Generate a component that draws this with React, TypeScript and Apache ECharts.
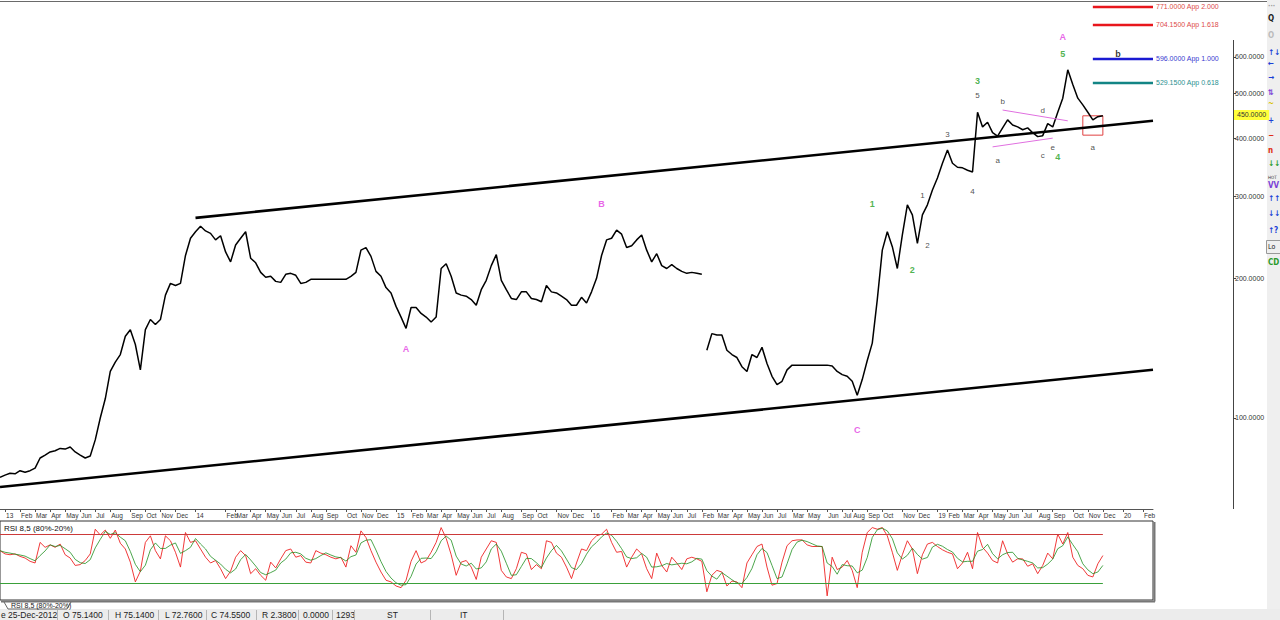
import React, { useEffect, useRef } from 'react';
import * as echarts from 'echarts';

// weekly-ish closes, one per category slot
const PRICE = [
  74.5, 75.3, 76, 75.8, 77, 76.4, 77, 78, 82, 83.2,
  84.5, 85, 86, 85.7, 86.6, 84.5, 83.2, 82, 82.8, 89.7,
  100, 110, 126, 132, 137, 150, 155, 144, 127, 155,
  163, 159, 163, 184, 195, 193, 195, 224, 244, 252,
  259, 253, 250, 242, 247, 228, 217, 236, 244, 252,
  221, 216, 206, 201, 202, 197, 196, 204, 205, 203,
  195, 196, 199, 199, 199, 199, 199, 199, 199, 199,
  202, 206, 230, 233, 223, 207, 202, 191, 186, 174,
  165, 156, 173, 173, 168, 165, 161, 165, 210, 215,
  202, 186, 184, 183, 180, 175, 189, 198, 213, 225,
  198, 189, 181, 180, 187, 187, 181, 180, 178, 193,
  187, 186, 183, 180, 175, 175, 182, 177, 187, 200,
  224, 242, 244, 254, 249, 233, 235, 242, 248, 230,
  217, 226, 213, 210, 214, 210, 207, 205, 206, 205,
  204, 140, 152, 151, 151, 140, 137, 135, 129, 126,
  137, 135, 142, 131, 123, 118, 120, 127, 130, 130,
  130, 130, 130, 130, 130, 130, 129.5, 126, 124, 123,
  120, 112, 121, 133, 145, 180, 230, 252, 234, 210,
  248, 288, 274, 238, 274, 288, 310, 329, 354, 378,
  354, 347, 346, 342, 339, 456, 424, 434, 412, 405,
  422, 439, 428, 424, 418, 422, 412, 404, 406, 431,
  424, 456, 489, 563, 523, 489, 473, 456, 439, 446, 448,
];
const GAP_INDEX = 141; // price jumps here, the two runs are not joined

const RSI = [
  60, 56, 55, 56, 53, 51, 47, 45, 70, 64,
  67, 64, 68, 55, 51, 42, 43, 48, 56, 86,
  79, 85, 75, 85, 69, 62, 46, 22, 35, 70,
  78, 60, 50, 78, 72, 58, 40, 82, 70, 72,
  62, 52, 45, 48, 38, 26, 35, 52, 60, 54,
  32, 38, 30, 24, 46, 39, 50, 60, 62, 52,
  54, 46, 45, 60, 57, 55, 52, 50, 52, 40,
  66, 58, 84, 76, 60, 46, 34, 24, 22, 17,
  15, 24, 47, 60, 45, 48, 58, 70, 88, 75,
  55, 30, 46, 48, 40, 25, 52, 62, 72, 70,
  36, 28, 26, 38, 58, 56, 37, 43, 38, 72,
  70, 57, 52, 40, 26, 45, 62, 60, 72, 78,
  80, 86, 70, 58, 59, 40, 52, 62, 56, 38,
  26, 57, 42, 34, 52, 45, 37, 50, 52, 50,
  47, 10, 30, 36, 34, 17, 23, 22, 15, 45,
  55, 65, 68, 40, 18, 20, 46, 66, 72, 73,
  73, 67, 65, 65, 65, 5, 52, 37, 40, 48,
  36, 15, 58, 82, 88, 86, 88, 78, 58, 36,
  55, 72, 62, 32, 55, 68, 70, 65, 61, 58,
  56, 38, 45, 58, 38, 82, 64, 57, 48, 45,
  72, 56, 46, 50, 50, 41, 44, 32, 42, 57,
  50, 80, 68, 82, 52, 42, 38, 30, 28, 44, 54,
];
const RSI_HIGH = 80;
const RSI_LOW = 20;

const CATEGORY_COUNT = 231;

const MONTH_TICKS: [number, string][] = [
  [1, '13'], [4, 'Feb'], [7, 'Mar'], [10, 'Apr'], [13, 'May'], [16, 'Jun'], [19, 'Jul'], [22, 'Aug'],
  [26, 'Sep'], [29, 'Oct'], [32, 'Nov'], [35, 'Dec'], [39, '14'], [45, 'Feb'], [47, 'Mar'], [50, 'Apr'],
  [53, 'May'], [56, 'Jun'], [59, 'Jul'], [62, 'Aug'], [65, 'Sep'], [69, 'Oct'], [72, 'Nov'], [75, 'Dec'],
  [79, '15'], [82, 'Feb'], [85, 'Mar'], [88, 'Apr'], [91, 'May'], [94, 'Jun'], [97, 'Jul'], [100, 'Aug'],
  [104, 'Sep'], [107, 'Oct'], [111, 'Nov'], [114, 'Dec'], [118, '16'], [122, 'Feb'], [125, 'Mar'],
  [128, 'Apr'], [131, 'May'], [134, 'Jun'], [137, 'Jul'], [140, 'Feb'], [143, 'Mar'], [146, 'Apr'],
  [149, 'May'], [152, 'Jun'], [155, 'Jul'], [158, 'Mar'], [161, 'May'], [165, 'Jun'], [168, 'Jul'],
  [170, 'Aug'], [173, 'Sep'], [176, 'Oct'], [180, 'Nov'], [183, 'Dec'], [187, '19'], [189, 'Feb'],
  [192, 'Mar'], [195, 'Apr'], [198, 'May'], [201, 'Jun'], [204, 'Jul'], [207, 'Aug'], [210, 'Sep'],
  [214, 'Oct'], [217, 'Nov'], [220, 'Dec'], [224, '20'], [228, 'Feb'],
];

const PRICE_TICKS = [100, 200, 300, 400, 500, 600];
const PRICE_MIN = 63.66;
const PRICE_MAX = 795.9;
const LAST_PRICE = 450;

const TARGETS = [
  { value: 771, ratio: '2.000', kind: 'red' },
  { value: 704.15, ratio: '1.618', kind: 'red' },
  { value: 596, ratio: '1.000', kind: 'blue' },
  { value: 529.15, ratio: '0.618', kind: 'teal' },
];
const TARGET_FROM = 218;
const TARGET_TO = 230;

const CHANNEL_LINES = [
  [[39, 270], [230, 437]],
  [[0, 71], [230, 127]],
];
const TRIANGLE_LINES = [
  [[200.3, 461], [213.4, 437]],
  [[197.8, 384], [210.1, 401]],
];
const BOX = [[216.1, 448], [220.3, 407]];

const WAVE_LABELS = [
  { text: 'A', idx: 81.2, value: 141, kind: 'major' },
  { text: 'B', idx: 119.9, value: 289, kind: 'major' },
  { text: 'C', idx: 171.2, value: 94.2, kind: 'major' },
  { text: 'A', idx: 212.1, value: 661, kind: 'major' },
  { text: '1', idx: 174.4, value: 289, kind: 'wave' },
  { text: '2', idx: 182.1, value: 208, kind: 'wave' },
  { text: '3', idx: 194.5, value: 533, kind: 'wave' },
  { text: '4', idx: 210.7, value: 366, kind: 'wave' },
  { text: '5', idx: 212.3, value: 608, kind: 'wave' },
  { text: '1', idx: 183.5, value: 302, kind: 'minor' },
  { text: '2', idx: 185.3, value: 235, kind: 'minor' },
  { text: '3', idx: 189, value: 409, kind: 'minor' },
  { text: '4', idx: 193.7, value: 307, kind: 'minor' },
  { text: '5', idx: 195.1, value: 495, kind: 'minor' },
  { text: 'a', idx: 199.4, value: 359, kind: 'minor' },
  { text: 'b', idx: 199.8, value: 482, kind: 'minor' },
  { text: 'c', idx: 207.5, value: 367, kind: 'minor' },
  { text: 'd', idx: 207.8, value: 461, kind: 'minor' },
  { text: 'e', idx: 210.3, value: 383, kind: 'minor' },
  { text: 'a', idx: 217.9, value: 382, kind: 'minor' },
  { text: 'b', idx: 222.8, value: 609, kind: 'bold' },
];

const STATUS_FIELDS = ['e 25-Dec-2012', 'O 75.1400', 'H 75.1400', 'L 72.7600', 'C 74.5500', 'R 2.3800', '0.0000', '1293', 'ST', 'IT'];

const TOOLBAR = [
  { t: '···', kind: 'gray' }, { t: 'Q', kind: 'dark' }, { t: 'O', kind: 'light' }, { t: '↑↓', kind: 'blue' },
  { t: '←', kind: 'blue' }, { t: '→', kind: 'blue' }, { t: '⇅', kind: 'purple' }, { t: '~', kind: 'yellow' },
  { t: '+', kind: 'blue' }, { t: '−', kind: 'red' }, { t: 'n', kind: 'red' }, { t: '↓↓', kind: 'green' },
  { t: 'HOT', kind: 'tiny' }, { t: 'VV', kind: 'purple' }, { t: '↑↑', kind: 'blue' }, { t: '↓↓', kind: 'blue' },
  { t: '↑?', kind: 'blue' }, { t: 'Lo', kind: 'small' }, { t: 'CD', kind: 'green' },
];

const FONT = "'Liberation Sans', Arial, sans-serif";
const NARROW = "'Liberation Sans Narrow', 'DejaVu Sans Condensed', 'Liberation Sans', sans-serif";

const TARGET_COLORS: Record<string, { line: string; text: string }> = {
  red: { line: '#e8161c', text: '#dd4a4a' },
  blue: { line: '#1a1ad2', text: '#3a3ad0' },
  teal: { line: '#138585', text: '#2a9090' },
};

const WAVE_STYLES: Record<string, any> = {
  major: { color: '#e23de2', fontSize: 9, fontWeight: 'bold' },
  wave: { color: '#24a024', fontSize: 9, fontWeight: 'bold' },
  minor: { color: '#222', fontSize: 8, fontWeight: 'normal' },
  bold: { color: '#000', fontSize: 9, fontWeight: 'bold' },
};

const TOOL_COLORS: Record<string, string> = {
  gray: '#999', dark: '#222', light: '#bbb', blue: '#1b3fd6', purple: '#7a3fd6',
  yellow: '#d8c000', red: '#e02a10', green: '#2a9a2a', tiny: '#333', small: '#222',
};
const TOOL_Y = [6, 18, 35, 52, 63, 77, 92, 103, 120, 135, 150, 163, 177, 185, 198, 213, 230, 247, 262];

const STATUS_X = [1, 63, 115, 165, 211, 262, 303, 336, 387, 460];
const STATUS_SEPS = [57, 108, 158, 206, 256, 298, 332, 354, 430, 503];

const buildOption = () => {
  const categories: string[] = new Array(CATEGORY_COUNT).fill('');
  MONTH_TICKS.forEach(([i, label]) => {
    categories[i] = label;
  });

  const pad = (arr: (number | null)[]) => {
    const out = arr.slice();
    while (out.length < CATEGORY_COUNT) out.push(null);
    return out;
  };
  const priceA = pad(PRICE.map((v, i) => (i < GAP_INDEX ? v : null)));
  const priceB = pad(PRICE.map((v, i) => (i >= GAP_INDEX ? v : null)));

  // signal line of the RSI: short trailing average
  const signal = RSI.map((_, i) => {
    const from = Math.max(0, i - 2);
    const slice = RSI.slice(from, i + 1);
    return slice.reduce((s, v) => s + v, 0) / slice.length;
  });
  const lastIdx = RSI.length - 1;

  const showTick = (_: number, v: string) => v !== '';

  const markLines: any[] = [];
  CHANNEL_LINES.forEach(([a, b]) => {
    markLines.push([
      { coord: a, lineStyle: { color: '#000', width: 2.6, type: 'solid' }, label: { show: false } },
      { coord: b },
    ]);
  });
  TRIANGLE_LINES.forEach(([a, b]) => {
    markLines.push([
      { coord: a, lineStyle: { color: '#e070e0', width: 1, type: 'solid' }, label: { show: false } },
      { coord: b },
    ]);
  });
  TARGETS.forEach((t) => {
    const c = TARGET_COLORS[t.kind];
    markLines.push([
      {
        coord: [TARGET_FROM, t.value],
        lineStyle: { color: c.line, width: 2.4, type: 'solid' },
        label: {
          show: true,
          position: 'end',
          distance: 3,
          formatter: `${t.value.toFixed(4)} App ${t.ratio}`,
          color: c.text,
          fontSize: 7,
          fontFamily: FONT,
        },
      },
      { coord: [TARGET_TO, t.value] },
    ]);
  });
  markLines.push({
    yAxis: LAST_PRICE,
    lineStyle: { color: 'rgba(0,0,0,0)', width: 0, type: 'solid' },
    label: {
      show: true,
      position: 'end',
      distance: 81,
      formatter: LAST_PRICE.toFixed(4),
      color: '#333',
      fontSize: 7,
      fontFamily: FONT,
      backgroundColor: '#ffff3a',
      padding: [2, 3, 1, 3],
    },
  });

  const graphic: any[] = [
    { type: 'rect', shape: { x: 1267, y: 0, width: 13, height: 609 }, style: { fill: '#efefef' }, z: 1 },
    { type: 'rect', shape: { x: 0, y: 609, width: 1280, height: 11 }, style: { fill: '#ececec' }, z: 1 },
    { type: 'line', shape: { x1: 0, y1: 1.5, x2: 1267, y2: 1.5 }, style: { stroke: '#6a6a6a', lineWidth: 1 }, z: 5 },
    { type: 'line', shape: { x1: 1233.5, y1: 40, x2: 1233.5, y2: 509 }, style: { stroke: '#444', lineWidth: 1 }, z: 5 },
    { type: 'line', shape: { x1: 1154.5, y1: 522, x2: 1154.5, y2: 601.5 }, style: { stroke: '#777', lineWidth: 2 }, z: 5 },
    { type: 'line', shape: { x1: 1, y1: 601.5, x2: 1155, y2: 601.5 }, style: { stroke: '#777', lineWidth: 2 }, z: 5 },
    {
      type: 'text', x: 4, y: 528, z: 6,
      style: { text: 'RSI 8,5 (80%-20%)', fill: '#111', fontSize: 8, fontFamily: FONT, verticalAlign: 'middle' },
    },
    {
      type: 'polyline', z: 6,
      shape: { points: [[4, 602], [8, 609], [67, 609], [71, 602]] },
      style: { stroke: '#666', lineWidth: 1, fill: null },
    },
    {
      type: 'text', x: 11, y: 605.5, z: 6,
      style: { text: 'RSI 8,5 (80%-20%)', fill: '#222', fontSize: 7, fontFamily: FONT, verticalAlign: 'middle' },
    },
  ];
  STATUS_FIELDS.forEach((t, i) => {
    graphic.push({
      type: 'text', x: STATUS_X[i], y: 615, z: 6,
      style: { text: t, fill: '#222', fontSize: 8.5, fontFamily: FONT, verticalAlign: 'middle' },
    });
  });
  STATUS_SEPS.forEach((x) => {
    graphic.push({
      type: 'line', z: 6,
      shape: { x1: x + 0.5, y1: 610, x2: x + 0.5, y2: 620 },
      style: { stroke: '#b5b5b5', lineWidth: 1 },
    });
  });
  TOOLBAR.forEach((b, i) => {
    const size = b.kind === 'tiny' ? 4.5 : b.kind === 'small' ? 7 : b.kind === 'gray' ? 7 : 8;
    graphic.push({
      type: 'text', x: 1268, y: TOOL_Y[i], z: 6,
      style: {
        text: b.t,
        fill: TOOL_COLORS[b.kind],
        fontSize: size,
        fontWeight: b.kind === 'small' || b.kind === 'tiny' ? 'normal' : 'bold',
        fontFamily: NARROW,
        verticalAlign: 'middle',
      },
    });
  });
  graphic.push({
    type: 'rect', z: 6,
    shape: { x: 1266.5, y: 240.5, width: 16, height: 13 },
    style: { stroke: '#999', fill: null, lineWidth: 1 },
  });

  return {
    animation: false,
    backgroundColor: '#ffffff',
    textStyle: { fontFamily: FONT },
    grid: [
      { left: 0, top: 0, width: 1153, height: 509, show: false },
      { left: 0, top: 521, width: 1153, height: 79, show: true, borderColor: '#333', borderWidth: 1, backgroundColor: '#fff' },
    ],
    xAxis: [
      {
        type: 'category',
        gridIndex: 0,
        data: categories,
        boundaryGap: false,
        axisLine: { show: true, lineStyle: { color: '#555', width: 1 } },
        axisTick: { show: true, interval: showTick, length: 3, lineStyle: { color: '#555' } },
        axisLabel: {
          interval: showTick,
          align: 'left',
          margin: 3,
          padding: [0, 0, 0, 1],
          fontSize: 6.5,
          color: '#333',
          fontFamily: FONT,
        },
        splitLine: { show: false },
      },
      {
        type: 'category',
        gridIndex: 1,
        data: categories,
        boundaryGap: false,
        show: false,
      },
    ],
    yAxis: [
      {
        type: 'log',
        gridIndex: 0,
        logBase: 10,
        position: 'right',
        offset: 80,
        min: PRICE_MIN,
        max: PRICE_MAX,
        axisLine: { show: false },
        axisTick: { show: true, customValues: PRICE_TICKS, length: 3, lineStyle: { color: '#444' } },
        axisLabel: {
          customValues: PRICE_TICKS,
          formatter: (v: number) => v.toFixed(4),
          fontSize: 7,
          color: '#333',
          margin: 2,
          fontFamily: FONT,
        },
        splitLine: { show: false },
      },
      {
        type: 'value',
        gridIndex: 1,
        min: 0,
        max: 96,
        show: false,
        splitLine: { show: false },
      },
    ],
    series: [
      {
        name: 'price-1',
        type: 'line',
        xAxisIndex: 0,
        yAxisIndex: 0,
        data: priceA,
        showSymbol: false,
        connectNulls: false,
        lineStyle: { color: '#000', width: 1.5 },
        silent: true,
      },
      {
        name: 'price-2',
        type: 'line',
        xAxisIndex: 0,
        yAxisIndex: 0,
        data: priceB,
        showSymbol: false,
        connectNulls: false,
        clip: false,
        lineStyle: { color: '#000', width: 1.5 },
        silent: true,
        markLine: {
          silent: true,
          symbol: ['none', 'none'],
          animation: false,
          data: markLines,
        },
        markArea: {
          silent: true,
          itemStyle: { color: 'rgba(0,0,0,0)', borderColor: '#e04040', borderWidth: 1 },
          data: [[{ coord: BOX[0] }, { coord: BOX[1] }]],
        },
      },
      {
        name: 'waves',
        type: 'scatter',
        xAxisIndex: 0,
        yAxisIndex: 0,
        symbolSize: 1,
        itemStyle: { color: 'rgba(0,0,0,0)' },
        silent: true,
        z: 10,
        data: WAVE_LABELS.map((w) => ({
          name: w.text,
          value: [w.idx, w.value],
          label: {
            show: true,
            position: 'inside',
            formatter: '{b}',
            fontFamily: FONT,
            ...WAVE_STYLES[w.kind],
          },
        })),
      },
      {
        name: 'rsi',
        type: 'line',
        xAxisIndex: 1,
        yAxisIndex: 1,
        data: pad(RSI),
        showSymbol: false,
        lineStyle: { color: '#ee2424', width: 0.9 },
        silent: true,
        markLine: {
          silent: true,
          symbol: ['none', 'none'],
          label: { show: false },
          data: [
            [{ coord: [0, RSI_HIGH], lineStyle: { color: '#cc3a3a', width: 1, type: 'solid' } }, { coord: [lastIdx, RSI_HIGH] }],
            [{ coord: [0, RSI_LOW], lineStyle: { color: '#3aa03a', width: 1, type: 'solid' } }, { coord: [lastIdx, RSI_LOW] }],
          ],
        },
      },
      {
        name: 'rsi-signal',
        type: 'line',
        xAxisIndex: 1,
        yAxisIndex: 1,
        data: pad(signal),
        showSymbol: false,
        lineStyle: { color: '#1f8f1f', width: 0.8 },
        silent: true,
      },
    ],
    graphic,
  };
};

export default function App() {
  const chartRef = useRef<HTMLDivElement>(null);

  useEffect(() => {
    if (!chartRef.current) return;
    const chart = echarts.init(chartRef.current, undefined, { renderer: 'svg' });
    chart.setOption(buildOption() as any);
    return () => {
      chart.dispose();
    };
  }, []);

  return (
    <div style={{ position: 'fixed', left: 0, top: 0, width: 1280, height: 620, background: '#fff' }}>
      <div ref={chartRef} style={{ width: 1280, height: 620 }} />
    </div>
  );
}
